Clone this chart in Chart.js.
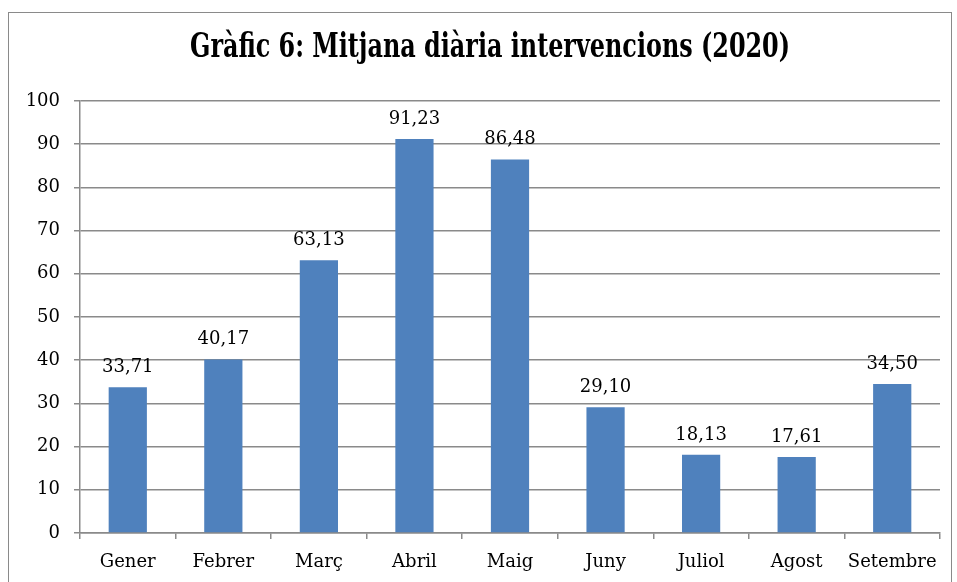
<!DOCTYPE html>
<html>
<head>
<meta charset="utf-8">
<script src="https://cdn.jsdelivr.net/npm/chart.js@4/dist/chart.umd.min.js"></script>
<style>
    body { margin: 0; background: #fff; }
    #frame {
        position: absolute; left: 8px; top: 12px;
        width: 942px; height: 600px;
        border: 1px solid #8a8a8a; border-bottom: none;
    }
    #wrap { position: absolute; left: 0; top: 0; width: 957px; height: 582px; }
</style>
</head>
<body>
<div id="frame"></div>
<div id="wrap"><canvas id="chart" width="957" height="582"></canvas></div>
<script>
const months = ["Gener", "Febrer", "Març", "Abril", "Maig", "Juny", "Juliol", "Agost", "Setembre"];
const mitjana = [33.71, 40.17, 63.13, 91.23, 86.48, 29.10, 18.13, 17.61, 34.50];
const titol = "Gràfic 6: Mitjana diària intervencions (2020)";

const serif = "'DejaVu Serif', serif";

// Títol estret (com al gràfic original), centrat a x=490
const titlePlugin = {
    id: 'titolEstret',
    afterDraw(chart) {
        const ctx = chart.ctx;
        ctx.save();
        ctx.font = "bold 33px " + serif;
        ctx.fillStyle = '#000';
        ctx.textAlign = 'center';
        ctx.textBaseline = 'middle';
        ctx.fillText(titol, 490, 48, 600);
        ctx.restore();
    }
};

// Etiquetes de valor sobre cada barra (coma decimal)
const valueLabels = {
    id: 'valueLabels',
    afterDatasetsDraw(chart) {
        const ctx = chart.ctx;
        const meta = chart.getDatasetMeta(0);
        ctx.save();
        ctx.font = "18px " + serif;
        ctx.fillStyle = '#000';
        ctx.textAlign = 'center';
        ctx.textBaseline = 'alphabetic';
        meta.data.forEach((bar, i) => {
            const txt = mitjana[i].toFixed(2).replace('.', ',');
            ctx.fillText(txt, bar.x, bar.y - 15);
        });
        ctx.restore();
    }
};

new Chart(document.getElementById('chart'), {
    type: 'bar',
    data: {
        labels: months,
        datasets: [{
            data: mitjana,
            backgroundColor: '#4f81bd',
            barPercentage: 0.4,
            categoryPercentage: 1
        }]
    },
    options: {
        responsive: false,
        animation: false,
        layout: { padding: { left: 0, right: 17, top: 101, bottom: 0 } },
        plugins: {
            legend: { display: false },
            tooltip: { enabled: false },
            title: { display: false }
        },
        scales: {
            x: {
                grid: { display: true, drawOnChartArea: false, offset: true, color: '#8a8a8a', lineWidth: 1.5, tickLength: 6 },
                border: { color: '#8a8a8a', width: 1.5 },
                ticks: { color: '#000', font: { family: serif, size: 18 }, padding: 13, maxRotation: 0 },
                afterFit(scale) { scale.height = 49; }
            },
            y: {
                min: 0, max: 100,
                grid: { color: '#8a8a8a', lineWidth: 1.5, tickLength: 6 },
                border: { color: '#8a8a8a', width: 1.5 },
                ticks: { stepSize: 10, color: '#000', font: { family: serif, size: 18 }, padding: 14 },
                afterFit(scale) { scale.width = 80; }
            }
        }
    },
    plugins: [valueLabels, titlePlugin]
});
</script>
</body>
</html>
